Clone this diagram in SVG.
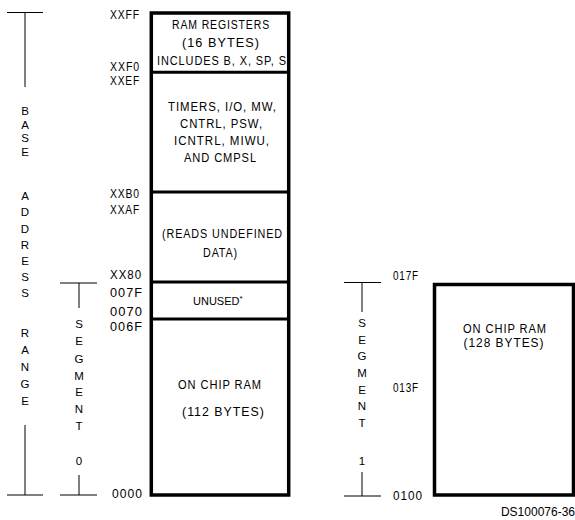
<svg xmlns="http://www.w3.org/2000/svg" width="575" height="520" viewBox="0 0 575 520">
<style>
text{font-family:"Liberation Sans",Arial,sans-serif;font-size:12px;fill:#000;letter-spacing:1px}
.c{text-anchor:middle}
.col text{font-size:11.5px;letter-spacing:0;text-anchor:middle}
.box{fill:none;stroke:#000;stroke-width:3.5}
.div{stroke:#000;stroke-width:3}
.thin{stroke:#000;stroke-width:1;fill:none}
</style>
<rect width="575" height="520" fill="#fff"/>
<g id="brackets" class="thin">
<path d="M7 12.5H43M25 12.5V87M25 425V495M7 495H43"/>
<path d="M60 283H97M79 283V308M79 475V495M60 495H97"/>
<path d="M344 282.5H381M362 282.5V312M362 472V496M344 496H381"/>
</g>
<g id="base-range-label" class="col">
<text x="25" y="115">B</text><text x="25" y="128.5">A</text><text x="25" y="142">S</text><text x="25" y="155.5">E</text>
<text x="25" y="200">A</text><text x="25" y="216">D</text><text x="25" y="232.5">D</text><text x="25" y="249">R</text><text x="25" y="265">E</text><text x="25" y="281">S</text><text x="25" y="297">S</text>
<text x="25" y="337">R</text><text x="25" y="354">A</text><text x="25" y="371">N</text><text x="25" y="388">G</text><text x="25" y="405">E</text>
</g>
<g id="segment0-label" class="col">
<text x="79" y="328">S</text><text x="79" y="345">E</text><text x="79" y="362.5">G</text><text x="79" y="379.5">M</text><text x="79" y="396">E</text><text x="79" y="413">N</text><text x="79" y="430">T</text><text x="79" y="465">0</text>
</g>
<g id="segment1-label" class="col">
<text x="362" y="327">S</text><text x="362" y="343.5">E</text><text x="362" y="360">G</text><text x="362" y="377">M</text><text x="362" y="393.5">E</text><text x="362" y="410">N</text><text x="362" y="427">T</text><text x="362" y="465">1</text>
</g>
<g id="addresses">
<text x="110" y="19" textLength="30" lengthAdjust="spacingAndGlyphs">XXFF</text>
<text x="110" y="71" textLength="30" lengthAdjust="spacingAndGlyphs">XXF0</text>
<text x="110" y="85" textLength="30" lengthAdjust="spacingAndGlyphs">XXEF</text>
<text x="110" y="198" textLength="30" lengthAdjust="spacingAndGlyphs">XXB0</text>
<text x="110" y="214" textLength="30" lengthAdjust="spacingAndGlyphs">XXAF</text>
<text x="110" y="279" textLength="32" lengthAdjust="spacingAndGlyphs">XX80</text>
<text x="110" y="297" textLength="33" lengthAdjust="spacingAndGlyphs">007F</text>
<text x="110" y="316" textLength="33" lengthAdjust="spacingAndGlyphs">0070</text>
<text x="110" y="331" textLength="33" lengthAdjust="spacingAndGlyphs">006F</text>
<text x="112" y="498" textLength="31" lengthAdjust="spacingAndGlyphs">0000</text>
<text x="393" y="280" textLength="26" lengthAdjust="spacingAndGlyphs">017F</text>
<text x="393" y="392" textLength="26" lengthAdjust="spacingAndGlyphs">013F</text>
<text x="393" y="500" textLength="30" lengthAdjust="spacingAndGlyphs">0100</text>
</g>
<g id="segment0-map">
<rect class="box" x="151.3" y="13" width="137.4" height="482"/>
<line class="div" x1="151" y1="72.3" x2="289" y2="72.3"/>
<line class="div" x1="151" y1="192" x2="289" y2="192"/>
<line class="div" x1="151" y1="282" x2="289" y2="282" stroke-width="2.5"/>
<line class="div" x1="151" y1="319" x2="289" y2="319"/>
</g>
<g id="ram-registers" class="c">
<text x="221" y="29" textLength="98" lengthAdjust="spacingAndGlyphs">RAM REGISTERS</text>
<text x="221" y="47" textLength="78" lengthAdjust="spacingAndGlyphs">(16 BYTES)</text>
<text x="222" y="65" textLength="130" lengthAdjust="spacingAndGlyphs">INCLUDES B, X, SP, S</text>
</g>
<g id="timers" class="c">
<text x="222.5" y="111" textLength="109" lengthAdjust="spacingAndGlyphs">TIMERS, I/O, MW,</text>
<text x="221.5" y="128" textLength="83" lengthAdjust="spacingAndGlyphs">CNTRL, PSW,</text>
<text x="222" y="145" textLength="96" lengthAdjust="spacingAndGlyphs">ICNTRL, MIWU,</text>
<text x="220.5" y="162" textLength="73" lengthAdjust="spacingAndGlyphs">AND CMPSL</text>
</g>
<g id="undefined" class="c">
<text x="222.5" y="238" textLength="121" lengthAdjust="spacingAndGlyphs">(READS UNDEFINED</text>
<text x="220.5" y="257" textLength="35" lengthAdjust="spacingAndGlyphs">DATA)</text>
</g>
<g id="unused">
<text x="193" y="305" style="font-size:11px;letter-spacing:0">UNUSED<tspan dy="-4" style="font-size:8px">*</tspan></text>
</g>
<g id="on-chip-ram-112" class="c">
<text x="220" y="389" textLength="84" lengthAdjust="spacingAndGlyphs">ON CHIP RAM</text>
<text x="223.5" y="416" textLength="83" lengthAdjust="spacingAndGlyphs">(112 BYTES)</text>
</g>
<g id="segment1-map">
<rect class="box" x="434.5" y="284.5" width="139" height="210.5"/>
<text class="c" x="505" y="333" textLength="84" lengthAdjust="spacingAndGlyphs">ON CHIP RAM</text>
<text class="c" x="504" y="347" textLength="81" lengthAdjust="spacingAndGlyphs">(128 BYTES)</text>
</g>
<text x="575" y="516" style="font-size:12px;text-anchor:end;letter-spacing:0">DS100076-36</text>
</svg>
